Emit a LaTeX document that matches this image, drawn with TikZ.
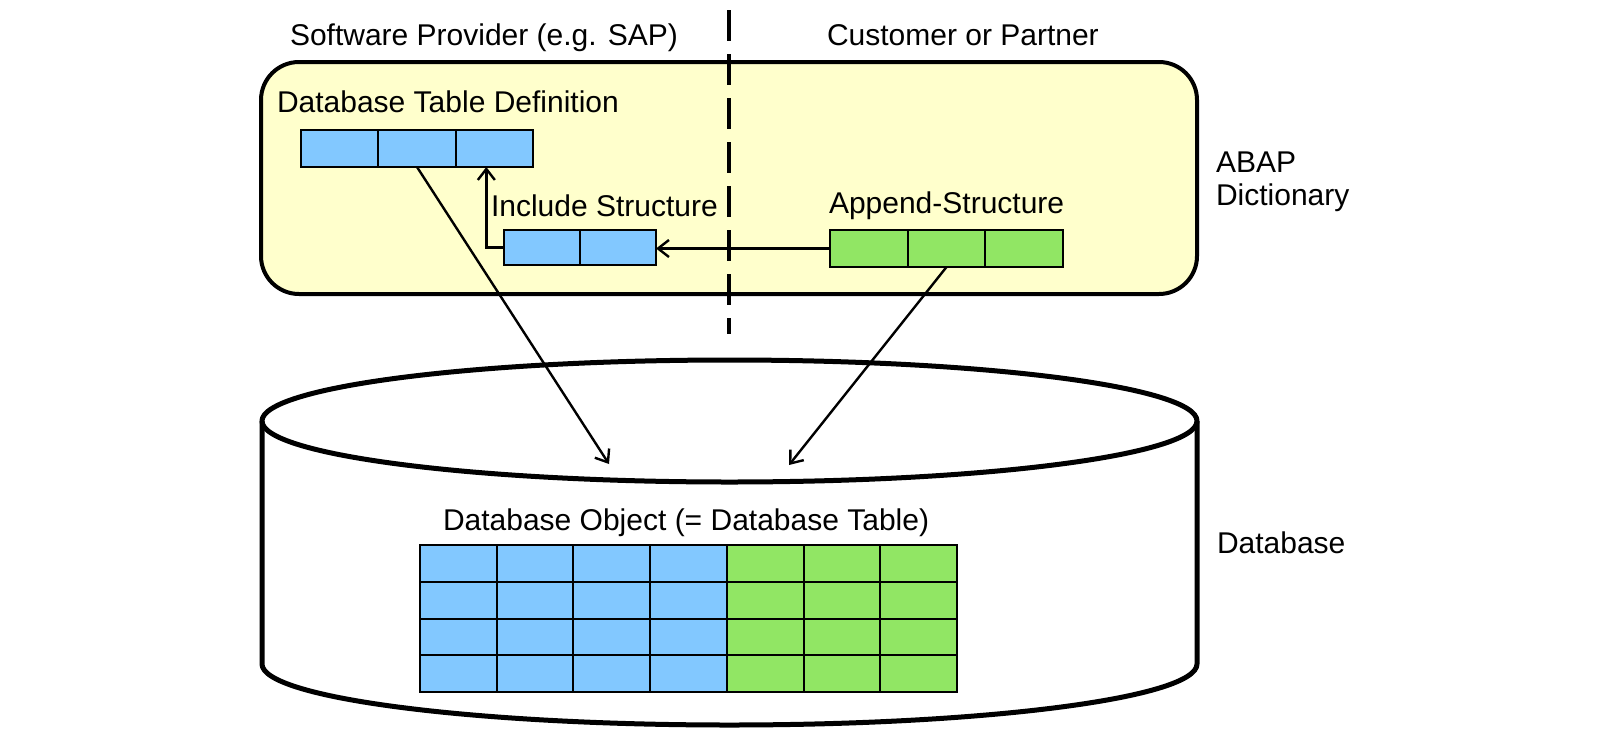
\documentclass[tikz,border=0pt]{standalone}
\usepackage{fontspec}
\setmainfont{Liberation Sans}
\usetikzlibrary{arrows.meta}
\definecolor{dbblue}{RGB}{130,200,255}
\definecolor{dbgreen}{RGB}{145,230,100}
\definecolor{dictyellow}{RGB}{255,255,204}
\begin{document}
\begin{tikzpicture}[x=1pt,y=-1pt,
  lbl/.style={anchor=base west, inner sep=0pt, outer sep=0pt, font=\fontsize{30}{34}\selectfont},
  dictbox/.style={draw, line width=4pt, fill=dictyellow, rounded corners=38pt,
    minimum width=936pt, minimum height=232pt, inner sep=0pt, outer sep=0pt},
  divider/.style={line width=4pt, dash pattern=on 31pt off 13pt},
  cyl/.style={line width=5pt, line join=round},
  cellbase/.style={draw, line width=2pt, inner sep=0pt, outer sep=0pt, anchor=north west},
  cellb/.style={cellbase, fill=dbblue, minimum width=77.33pt, minimum height=37pt},
  cellg/.style={cellbase, fill=dbgreen, minimum width=77.67pt, minimum height=37pt},
  gridb/.style={cellbase, fill=dbblue, minimum width=76.7pt, minimum height=36.75pt},
  gridg/.style={cellbase, fill=dbgreen, minimum width=76.7pt, minimum height=36.75pt},
  arr/.style={line width=2.4pt, -{Straight Barb[length=11pt,width=17pt]}}
]
\useasboundingbox (0,0) rectangle (1600,737);

% ABAP dictionary box
\node[dictbox] (dict) at (729,178) {};

% divider
\coordinate (divtop) at (729,10);
\coordinate (divbot) at (729,334);
\draw[divider] (divtop) -- (divbot);

% database cylinder
\draw[cyl] (262,421) -- (262,664) arc[start angle=180,end angle=0,x radius=467.5,y radius=61] -- (1197,421);
\draw[cyl] (729.5,421) ellipse[x radius=467.5,y radius=61];

% labels
\node[lbl] (sp) at (290,45) {Software Provider (e.g. SAP)};
\node[lbl] (cp) at (827,45) {Customer or Partner};
\node[lbl] (tdl) at (277,112) {Database Table Definition};
\node[lbl] (isl) at (491,216) {Include Structure};
\node[lbl] (asl) at (829,213) {Append-Structure};
\node[lbl] (abap) at (1216,172) {ABAP};
\node[lbl] (dicl) at (1216,205) {Dictionary};
\node[lbl] (dbl) at (443,530) {Database Object (= Database Table)};
\node[lbl] (dbr) at (1217,553) {Database};

% database table definition
\node[cellb] (td1) at (301,130) {};
\node[cellb] (td2) at (378.33,130) {};
\node[cellb] (td3) at (455.67,130) {};

% include structure
\node[cellb, minimum width=76pt, minimum height=35pt] (in1) at (504,230) {};
\node[cellb, minimum width=76pt, minimum height=35pt] (in2) at (580,230) {};

% append structure
\node[cellg] (ap1) at (830,230) {};
\node[cellg] (ap2) at (907.67,230) {};
\node[cellg] (ap3) at (985.33,230) {};

% database object grid
\foreach \c in {0,1,2,3}{\foreach \r in {0,1,2,3}{
  \node[gridb] (g\r\c) at ({420+76.7*\c},{545+36.75*\r}) {};}}
\foreach \c in {4,5,6}{\foreach \r in {0,1,2,3}{
  \node[gridg] (g\r\c) at ({420+76.7*\c},{545+36.75*\r}) {};}}

% connectors
\coordinate (dbin1) at (609,464);
\coordinate (dbin2) at (789,465);
\draw[arr] (in1.west) -| ([xshift=-8pt]td3.south);
\draw[arr] (ap1.west) -- (ap1.west -| in2.east);
\draw[arr] (td2.south) -- (dbin1);
\draw[arr] (ap2.south) -- (dbin2);
\end{tikzpicture}
\end{document}
